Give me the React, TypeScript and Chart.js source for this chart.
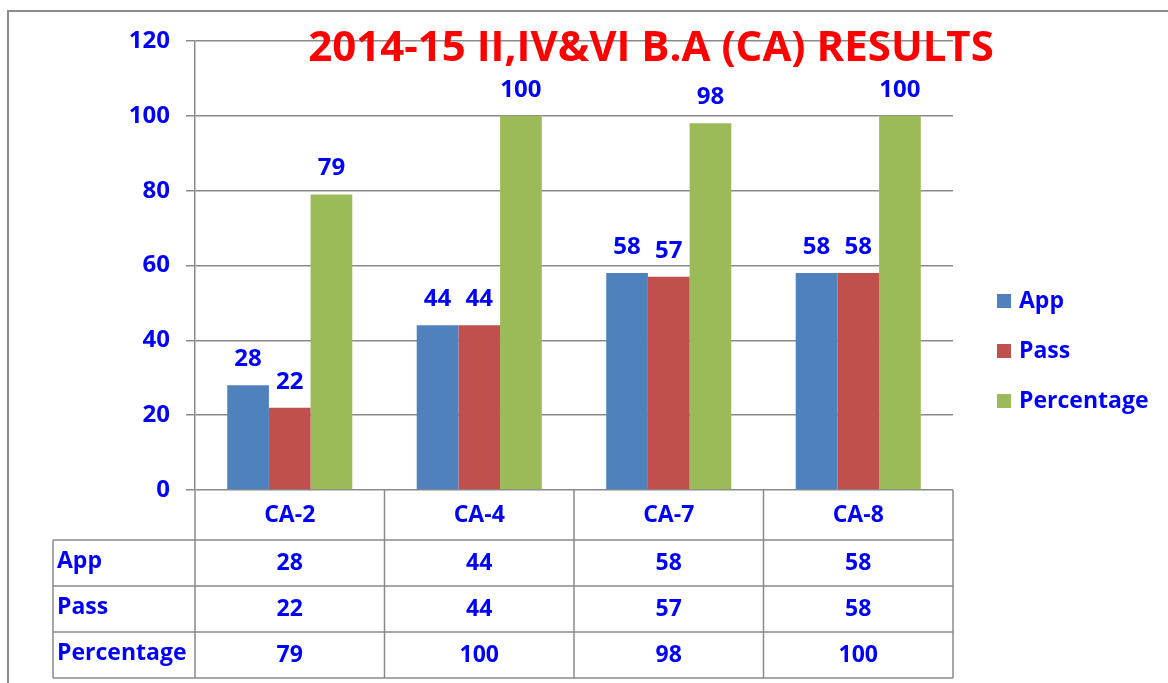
import React, { useEffect, useRef } from "react";
import { Chart, registerables } from "chart.js";

Chart.register(...registerables);

const categories = ["CA-2", "CA-4", "CA-7", "CA-8"];
const seriesNames = ["App", "Pass", "Percentage"];
const appValues = [28, 44, 58, 58];
const passValues = [22, 44, 57, 58];
const percentageValues = [79, 100, 98, 100];
const seriesColors = ["#4F81BD", "#C0504D", "#9BBB59"];
const titleText = "2014-15 II,IV&VI B.A (CA) RESULTS";
const yMin = 0;
const yMax = 120;
const yStep = 20;

const FONT = "'Open Sans', Lato, sans-serif";
const BLUE = "#0000FF";
const GRID = "#8A8A8A";

const overlayPlugin = {
  id: "overlay",
  beforeDraw(chart: any) {
    const { ctx, width, height } = chart;
    ctx.save();
    ctx.fillStyle = "#ffffff";
    ctx.fillRect(0, 0, width, height);
    ctx.restore();
  },
  afterDraw(chart: any) {
    const { ctx, chartArea, width, height } = chart;
    const seriesValues = [appValues, passValues, percentageValues];
    ctx.save();

    // outer frame
    ctx.strokeStyle = "#8C8C8C";
    ctx.lineWidth = 2;
    ctx.beginPath();
    ctx.moveTo(8, height);
    ctx.lineTo(8, 11);
    ctx.lineTo(width, 11);
    ctx.stroke();

    // data labels
    ctx.fillStyle = BLUE;
    ctx.font = `bold 24px ${FONT}`;
    ctx.textAlign = "center";
    ctx.textBaseline = "middle";
    chart.data.datasets.forEach((ds: any, di: number) => {
      const meta = chart.getDatasetMeta(di);
      meta.data.forEach((bar: any, i: number) => {
        ctx.fillText(String(ds.data[i]), bar.x, bar.y - 26);
      });
    });

    // table
    const n = categories.length;
    const catW = (chartArea.right - chartArea.left) / n;
    const top = chartArea.bottom;
    const headerBottom = top + 50;
    const rowH = 46;
    const labelLeft = 53;
    const tableBottom = headerBottom + rowH * seriesNames.length;
    ctx.strokeStyle = GRID;
    ctx.lineWidth = 1.5;
    ctx.beginPath();
    for (let i = 0; i <= n; i++) {
      const xx = chartArea.left + i * catW;
      ctx.moveTo(xx, top);
      ctx.lineTo(xx, tableBottom);
    }
    ctx.moveTo(labelLeft, headerBottom);
    ctx.lineTo(labelLeft, tableBottom);
    for (let r = 0; r <= seriesNames.length; r++) {
      const yy = headerBottom + r * rowH;
      ctx.moveTo(labelLeft, yy);
      ctx.lineTo(chartArea.right, yy);
    }
    ctx.stroke();

    ctx.fillStyle = BLUE;
    ctx.font = `bold 23px ${FONT}`;
    ctx.textBaseline = "middle";
    ctx.textAlign = "center";
    categories.forEach((c, i) => {
      ctx.fillText(c, chartArea.left + (i + 0.5) * catW, top + 25);
    });
    seriesNames.forEach((s, r) => {
      const cy = headerBottom + r * rowH + rowH / 2;
      ctx.textAlign = "left";
      ctx.fillText(s, labelLeft + 4, cy - 2);
      ctx.textAlign = "center";
      seriesValues[r].forEach((v, i) => {
        ctx.fillText(String(v), chartArea.left + (i + 0.5) * catW, cy);
      });
    });

    // legend
    ctx.font = `bold 23px ${FONT}`;
    ctx.textAlign = "left";
    seriesNames.forEach((s, r) => {
      const cy = 301 + r * 50;
      ctx.fillStyle = seriesColors[r];
      ctx.fillRect(997, cy - 7, 14, 14);
      ctx.fillStyle = BLUE;
      ctx.fillText(s, 1019, cy);
    });

    // title
    ctx.fillStyle = "#FF0000";
    ctx.font = `bold 42px ${FONT}`;
    ctx.textAlign = "center";
    ctx.fillText(titleText, 651, 49);

    ctx.restore();
  },
};

export default function App() {
  const canvasRef = useRef<HTMLCanvasElement | null>(null);

  useEffect(() => {
    if (!canvasRef.current) return;
    const chart = new Chart(canvasRef.current, {
      type: "bar",
      data: {
        labels: categories,
        datasets: [
          { label: seriesNames[0], data: appValues, backgroundColor: seriesColors[0] },
          { label: seriesNames[1], data: passValues, backgroundColor: seriesColors[1] },
          { label: seriesNames[2], data: percentageValues, backgroundColor: seriesColors[2] },
        ],
      },
      options: {
        animation: false,
        responsive: false,
        maintainAspectRatio: false,
        layout: { padding: { top: 41, right: 215, bottom: 193, left: 0 } },
        datasets: { bar: { categoryPercentage: 0.66, barPercentage: 1 } },
        plugins: {
          legend: { display: false },
          title: { display: false },
          tooltip: { enabled: false },
        },
        scales: {
          x: { display: false },
          y: {
            min: yMin,
            max: yMax,
            ticks: {
              stepSize: yStep,
              color: BLUE,
              font: { family: FONT, size: 24, weight: "bold" },
              padding: 16,
            },
            grid: { color: GRID, lineWidth: 1.5, tickLength: 9 },
            border: { color: GRID, width: 1.5 },
            afterFit(scale: any) {
              scale.width = 195;
            },
          },
        },
      },
      plugins: [overlayPlugin],
    });
    return () => chart.destroy();
  }, []);

  return (
    <div style={{ position: "absolute", left: 0, top: 0, width: 1168, height: 683 }}>
      <canvas ref={canvasRef} width={1168} height={683} style={{ display: "block" }} />
    </div>
  );
}
